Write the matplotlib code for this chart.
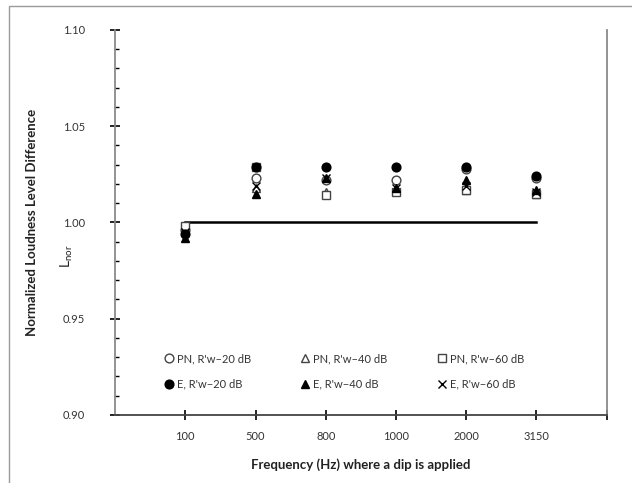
import numpy as np
import matplotlib.pyplot as plt
import matplotlib.patches as mpatches
from matplotlib.ticker import MultipleLocator

plt.rcParams['font.family'] = ['Lato', 'DejaVu Sans']

# frecuencias donde se aplica el dip
freqs = ['100', '500', '800', '1000', '2000', '3150']

pn_20 = [0.996, 1.023, 1.022, 1.022, 1.028, 1.023]
pn_40 = [0.997, 1.018, 1.016, 1.017, 1.017, 1.015]
pn_60 = [0.998, 1.029, 1.014, 1.016, 1.017, 1.015]
e_20 = [0.994, 1.029, 1.029, 1.029, 1.029, 1.024]
e_40 = [0.992, 1.015, 1.023, 1.018, 1.022, 1.017]
e_60 = [0.995, 1.019, 1.023, 1.018, 1.019, 1.016]
ref = [1.0, 1.0, 1.0, 1.0, 1.0, 1.0]

x = np.arange(1, len(freqs) + 1)

fig = plt.figure(figsize=(6.32, 4.83), dpi=100)
ax = fig.add_axes([0.182, 0.141, 0.778, 0.797])

ax.plot(x, ref, color='black', lw=1.8, zorder=1)

ms = 6.3
h_pn20, = ax.plot(x, pn_20, 'o', ms=ms, mfc='white', mec='#444444', mew=1.0, ls='none', label="PN, R'w\u201320 dB")
h_pn40, = ax.plot(x, pn_40, '^', ms=ms, mfc='white', mec='#444444', mew=1.0, ls='none', label="PN, R'w\u201340 dB")
h_pn60, = ax.plot(x, pn_60, 's', ms=ms, mfc='white', mec='#444444', mew=1.0, ls='none', label="PN, R'w\u201360 dB")
h_e20, = ax.plot(x, e_20, 'o', ms=ms, color='black', ls='none', label="E, R'w\u221220 dB")
h_e40, = ax.plot(x, e_40, '^', ms=ms, color='black', ls='none', label="E, R'w\u221240 dB")
h_e60, = ax.plot(x, e_60, 'x', ms=ms, color='black', mew=1.0, ls='none', label="E, R'w\u221260 dB")

ax.set_xlim(0, 7)
ax.set_ylim(0.90, 1.10)
ax.set_xticks(np.arange(1, 8))
ax.set_xticklabels(freqs + [''])
ax.yaxis.set_major_locator(MultipleLocator(0.05))
ax.yaxis.set_minor_locator(MultipleLocator(0.01))
ax.yaxis.set_major_formatter(plt.FormatStrFormatter('%.2f'))
ax.tick_params(axis='both', which='major', direction='inout', length=7, width=1.2,
               labelsize=8, labelcolor='#333333')
ax.tick_params(axis='y', which='minor', direction='in', length=3, width=1)
ax.tick_params(axis='x', pad=8)
ax.tick_params(axis='y', pad=18)

ax.spines['top'].set_visible(False)
ax.spines['left'].set_color('#8a8a8a')
ax.spines['left'].set_linewidth(1.3)
ax.spines['right'].set_color('#8a8a8a')
ax.spines['right'].set_linewidth(1.3)
ax.spines['bottom'].set_color('#444444')
ax.spines['bottom'].set_linewidth(1.3)

ax.set_xlabel('Frequency (Hz) where a dip is applied', fontsize=9.5, fontweight='bold',
              color='#222222', labelpad=12)
ax.set_ylabel('Normalized Loudness Level Difference', fontsize=9.5, fontweight='bold',
              color='#222222', labelpad=18)
fig.text(0.106, 0.47, r'L$_{\mathregular{nor}}$', rotation=90, fontsize=10,
         color='#222222', ha='center', va='center')

handles = [h_pn20, h_e20, h_pn40, h_e40, h_pn60, h_e60]
ax.legend(handles=handles, ncol=3, loc='lower left', bbox_to_anchor=(0.078, 0.04),
          frameon=False, fontsize=8, handletextpad=0.2, columnspacing=4.4,
          labelspacing=1.3, handlelength=1.0, labelcolor='#333333')

# borde del área del gráfico
fig.add_artist(mpatches.Rectangle((0.014, -0.01), 1.0, 0.997, transform=fig.transFigure,
                                  fill=False, edgecolor='#9a9a9a', lw=1.0))

fig.savefig('out.png', dpi=100)
